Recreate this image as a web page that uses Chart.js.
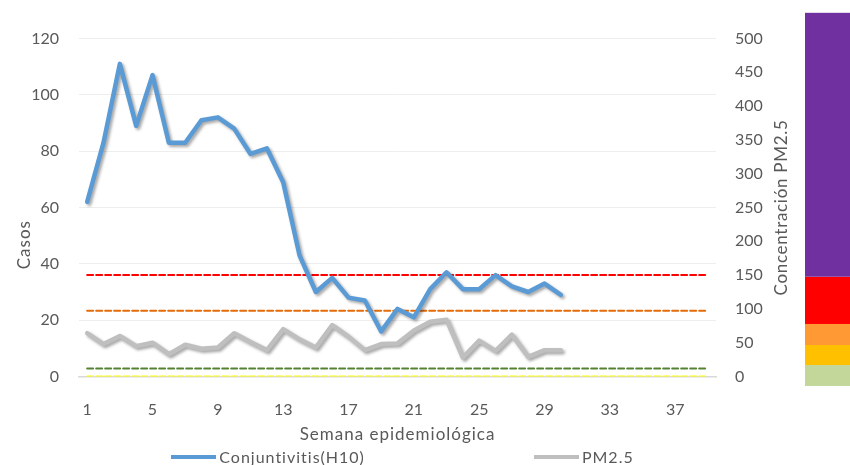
<!DOCTYPE html>
<html>
<head>
<meta charset="utf-8">
<script src="https://cdn.jsdelivr.net/npm/chart.js@4.4.1/dist/chart.umd.min.js"></script>
<style>
    html, body { margin: 0; padding: 0; background: #fff; }
    #wrap { position: relative; width: 850px; height: 465px; }
    #legend {
        position: absolute; left: 0; top: 447px; width: 805px;
        display: flex; justify-content: center; gap: 169px;
        font: 16px Lato, sans-serif; color: #595959; line-height: 19px;
        letter-spacing: 1px;
    }
    #legend .item { display: flex; align-items: center; }
    #legend .swatch { display: inline-block; width: 45px; height: 4px; margin-right: 3px; }
</style>
</head>
<body>
<div id="wrap">
    <canvas id="chart" width="850" height="465"></canvas>
    <div id="legend"></div>
</div>
<script>
const weeks = ['1', '2', '3', '4', '5', '6', '7', '8', '9', '10', '11', '12', '13',
    '14', '15', '16', '17', '18', '19', '20', '21', '22', '23', '24', '25', '26',
    '27', '28', '29', '30', '31', '32', '33', '34', '35', '36', '37', '38', '39'];

// casos semanales de conjuntivitis (H10)
const casos = [62, 83, 111, 89, 107, 83, 83, 91, 92, 88, 79, 81, 69, 43, 30,
    35, 28, 27, 16, 24, 21, 31, 37, 31, 31, 36, 32, 30, 33, 29];

// concentración PM2.5 (eje derecho)
const pm25 = [64, 48, 60, 45, 50, 33, 47, 41, 43, 64, 51, 39, 70, 55, 43,
    76, 59, 39, 48, 49, 68, 81, 84, 28, 53, 38, 62, 29, 39, 39];

// límites de PM2.5 dibujados como líneas punteadas
const umbrales = [150, 97.4, 12, 0];
const umbralColores = ['#FF0000', '#E46C0A', '#548235', '#FFFF00'];

// franjas de la barra de colores a la derecha (en unidades de PM2.5)
const franjas = [-14, 17, 46.6, 77.7, 147.6, 538];
const franjaColores = ['#C4D79B', '#FFC000', '#FF9933', '#FF0000', '#7030A0'];

const textColor = '#595959';
const fontFamily = 'Lato, sans-serif';

const datasets = [
    {
        label: 'Conjuntivitis(H10)',
        data: casos,
        yAxisID: 'y',
        borderColor: '#5B9BD5',
        backgroundColor: '#5B9BD5',
        borderWidth: 4.5,
        pointRadius: 0,
        shadow: true,
        inLegend: true
    },
    {
        label: 'PM2.5',
        data: pm25,
        yAxisID: 'y1',
        borderColor: '#BFBFBF',
        backgroundColor: '#BFBFBF',
        borderWidth: 4.5,
        pointRadius: 0,
        shadow: true,
        inLegend: true
    }
];

umbrales.forEach((v, i) => {
    datasets.push({
        label: 'umbral ' + v,
        data: [{ x: weeks[0], y: v }, { x: weeks[weeks.length - 1], y: v }],
        yAxisID: 'y1',
        borderColor: umbralColores[i],
        borderWidth: 2,
        borderDash: [6, 3],
        pointRadius: 0
    });
});

const lineShadow = {
    id: 'lineShadow',
    beforeDatasetDraw(chart, args) {
        if (!chart.data.datasets[args.index].shadow) return;
        const ctx = chart.ctx;
        ctx.save();
        ctx.shadowColor = 'rgba(0, 0, 0, 0.35)';
        ctx.shadowBlur = 3;
        ctx.shadowOffsetX = 2;
        ctx.shadowOffsetY = 2;
    },
    afterDatasetDraw(chart, args) {
        if (!chart.data.datasets[args.index].shadow) return;
        chart.ctx.restore();
    }
};

const colorBar = {
    id: 'colorBar',
    afterDraw(chart) {
        const ctx = chart.ctx;
        const y1 = chart.scales.y1;
        const x0 = y1.right;
        ctx.save();
        for (let i = 0; i < franjaColores.length; i++) {
            const top = y1.getPixelForValue(franjas[i + 1]);
            const bottom = y1.getPixelForValue(franjas[i]);
            ctx.fillStyle = franjaColores[i];
            ctx.fillRect(x0, top, chart.width - x0, bottom - top);
        }
        ctx.restore();
    }
};

function rotatedText(ctx, text, x, y) {
    ctx.save();
    ctx.translate(x, y);
    ctx.rotate(-Math.PI / 2);
    ctx.fillText(text, 0, 0);
    ctx.restore();
}

const axisTitles = {
    id: 'axisTitles',
    afterDraw(chart) {
        const ctx = chart.ctx;
        const a = chart.chartArea;
        ctx.save();
        ctx.fillStyle = textColor;
        ctx.font = '17px ' + fontFamily;
        ctx.letterSpacing = '1px';
        ctx.textAlign = 'center';
        ctx.textBaseline = 'middle';

        ctx.fillText('Semana epidemiológica', (a.left + a.right) / 2, 435);
        rotatedText(ctx, 'Casos', 25, a.top + (a.bottom - a.top) * 0.61);
        ctx.letterSpacing = '0.7px';
        rotatedText(ctx, 'Concentración PM2.5', 782, (a.top + a.bottom) / 2);

        ctx.restore();
    }
};

const chart = new Chart(document.getElementById('chart'), {
    type: 'line',
    data: { labels: weeks, datasets },
    plugins: [lineShadow, colorBar, axisTitles],
    options: {
        responsive: false,
        animation: false,
        layout: { padding: { top: 38.5, right: 45, bottom: 19, left: 0 } },
        plugins: {
            legend: { display: false },
            tooltip: { enabled: false }
        },
        elements: { line: { tension: 0, borderCapStyle: 'round', borderJoinStyle: 'round' } },
        scales: {
            x: {
                offset: true,
                grid: { display: false },
                border: { color: '#D9D9D9', width: 1.5 },
                ticks: {
                    autoSkip: false,
                    maxRotation: 0,
                    padding: 16,
                    color: textColor,
                    font: { family: fontFamily, size: 16 },
                    callback: (v, i) => (i % 4 === 0 ? weeks[i] : '')
                },
                afterFit: s => { s.height = 69.5; }
            },
            y: {
                position: 'left',
                min: 0,
                max: 120,
                ticks: {
                    stepSize: 20,
                    padding: 20,
                    color: textColor,
                    font: { family: fontFamily, size: 16 }
                },
                grid: { color: '#EEEEEE', drawTicks: false },
                border: { display: false },
                afterFit: s => { s.width = 79; }
            },
            y1: {
                position: 'right',
                min: 0,
                max: 500,
                ticks: {
                    stepSize: 50,
                    padding: 19,
                    color: textColor,
                    font: { family: fontFamily, size: 16 }
                },
                grid: { display: false, drawTicks: false },
                border: { display: false },
                afterFit: s => { s.width = 89; }
            }
        }
    }
});

// leyenda HTML con las dos series principales
const legendEl = document.getElementById('legend');
chart.data.datasets.filter(d => d.inLegend).forEach(d => {
    const item = document.createElement('div');
    item.className = 'item';
    item.innerHTML = `<span class="swatch" style="background:${d.borderColor}"></span><span>${d.label}</span>`;
    legendEl.appendChild(item);
});
</script>
</body>
</html>
